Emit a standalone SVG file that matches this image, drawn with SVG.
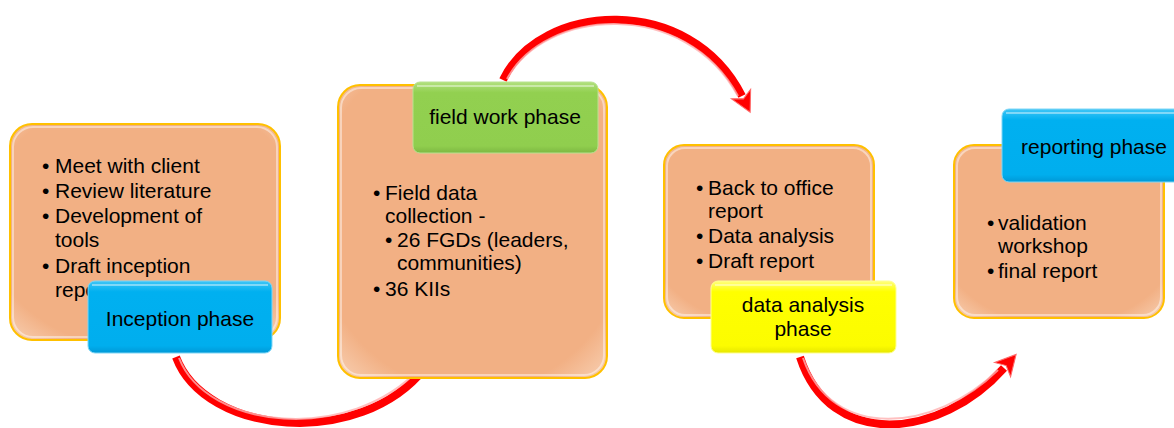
<svg xmlns="http://www.w3.org/2000/svg" width="1174" height="428" viewBox="0 0 1174 428">
  <style>
    .card { fill: url(#cardFill); stroke: #FFC000; stroke-width: 2; }
    .cardGlow { fill: none; stroke: #FFFFFF; stroke-opacity: 0.45; stroke-width: 2; }
    .txt { font-family: "Liberation Sans", Arial, sans-serif; font-size: 21px; fill: #000000; }
    .lbl { font-family: "Liberation Sans", Arial, sans-serif; font-size: 21px; fill: #000000; text-anchor: middle; }
    .tagEdge { fill: none; stroke: #FFFFFF; stroke-opacity: 0.55; stroke-width: 1.5; }
    .arc { fill: none; stroke: #FF0000; stroke-width: 8; stroke-linecap: butt; }
    .arcShine { fill: none; stroke: #FFB0B0; stroke-width: 2; stroke-opacity: 0.8; }
  </style>
  <defs>
    <radialGradient id="cardFill" cx="50%" cy="45%" r="70%">
      <stop offset="0" stop-color="#F2B084"/>
      <stop offset="0.85" stop-color="#F2B084"/>
      <stop offset="1" stop-color="#F6C7A6"/>
    </radialGradient>
    <linearGradient id="blueFill" x1="0" y1="0" x2="0" y2="1">
      <stop offset="0" stop-color="#3FC6F6"/>
      <stop offset="0.15" stop-color="#00B0F0"/>
      <stop offset="0.9" stop-color="#00AEEE"/>
      <stop offset="1" stop-color="#0098D6"/>
    </linearGradient>
    <linearGradient id="greenFill" x1="0" y1="0" x2="0" y2="1">
      <stop offset="0" stop-color="#B2E07E"/>
      <stop offset="0.15" stop-color="#92D050"/>
      <stop offset="0.9" stop-color="#90CE4E"/>
      <stop offset="1" stop-color="#7DB842"/>
    </linearGradient>
    <linearGradient id="yellowFill" x1="0" y1="0" x2="0" y2="1">
      <stop offset="0" stop-color="#FFFF80"/>
      <stop offset="0.15" stop-color="#FFFF00"/>
      <stop offset="0.9" stop-color="#FCFC00"/>
      <stop offset="1" stop-color="#E6E600"/>
    </linearGradient>
    <marker id="head" markerUnits="userSpaceOnUse" markerWidth="30" markerHeight="30" viewBox="-2 -14 22 28" refX="0" refY="0" orient="auto">
      <path d="M-2,-10 L17,0 L-2,10 L3,0 Z" fill="#FF0000" stroke="#FF6A6A" stroke-width="1"/>
    </marker>
  </defs>

  <!-- connectors: red curved arrows between phases -->
  <g id="connectors">
    <path class="arc" d="M176,357 C205,435 360,450 425,368"/>
    <path class="arcShine" d="M179,358 C207,430 350,444 420,368"/>
    <path class="arc" d="M503,80 C540,2 690,-8 742,96" marker-end="url(#head)"/>
    <path class="arcShine" d="M507,79 C545,8 685,-2 738,96"/>
    <path class="arc" d="M800,357 C830,450 940,440 1004,368" marker-end="url(#head)"/>
    <path class="arcShine" d="M803,358 C832,442 935,432 998,370"/>
  </g>

  <!-- inception -->
  <g id="inception">
    <rect class="card" x="10" y="124" width="270" height="216" rx="22"/>
    <rect class="cardGlow" x="13" y="127" width="264" height="210" rx="20"/>
    <text class="txt" x="42" y="173">•</text><text class="txt" x="55" y="173">Meet with client</text>
    <text class="txt" x="42" y="198">•</text><text class="txt" x="55" y="198">Review literature</text>
    <text class="txt" x="42" y="223">•</text><text class="txt" x="55" y="223">Development of</text>
    <text class="txt" x="55" y="247">tools</text>
    <text class="txt" x="42" y="273">•</text><text class="txt" x="55" y="273">Draft inception</text>
    <text class="txt" x="55" y="297">report</text>
  </g>
  <g id="inception-label">
    <rect x="88" y="281" width="184" height="72" rx="7" fill="url(#blueFill)" stroke="#7FD6F6" stroke-width="1"/>
    <path class="tagEdge" d="M92,285 L268,285"/>
    <text class="lbl" x="180" y="326">Inception phase</text>
  </g>

  <!-- field work -->
  <g id="fieldwork">
    <rect class="card" x="338" y="85" width="269" height="293" rx="22"/>
    <rect class="cardGlow" x="341" y="88" width="263" height="287" rx="20"/>
    <text class="txt" x="373" y="200">•</text><text class="txt" x="385" y="200">Field data</text>
    <text class="txt" x="385" y="223">collection -</text>
    <text class="txt" x="385" y="247">•</text><text class="txt" x="397" y="247">26 FGDs (leaders,</text>
    <text class="txt" x="397" y="270">communities)</text>
    <text class="txt" x="373" y="296">•</text><text class="txt" x="385" y="296">36 KIIs</text>
  </g>
  <g id="fieldwork-label">
    <rect x="413" y="82" width="185" height="71" rx="7" fill="url(#greenFill)" stroke="#B8E290" stroke-width="1"/>
    <path class="tagEdge" d="M417,86 L594,86"/>
    <text class="lbl" x="505" y="124">field work phase</text>
  </g>

  <!-- data analysis -->
  <g id="analysis">
    <rect class="card" x="664" y="145" width="210" height="173" rx="20"/>
    <rect class="cardGlow" x="667" y="148" width="204" height="167" rx="18"/>
    <text class="txt" x="696" y="195">•</text><text class="txt" x="708" y="195">Back to office</text>
    <text class="txt" x="708" y="218">report</text>
    <text class="txt" x="696" y="243">•</text><text class="txt" x="708" y="243">Data analysis</text>
    <text class="txt" x="696" y="268">•</text><text class="txt" x="708" y="268">Draft report</text>
  </g>
  <g id="analysis-label">
    <rect x="711" y="281" width="185" height="72" rx="7" fill="url(#yellowFill)" stroke="#FFFF90" stroke-width="1"/>
    <path class="tagEdge" d="M715,285 L892,285"/>
    <text class="lbl" x="803" y="312">data analysis</text>
    <text class="lbl" x="803" y="336">phase</text>
  </g>

  <!-- reporting -->
  <g id="reporting">
    <rect class="card" x="954" y="145" width="210" height="173" rx="20"/>
    <rect class="cardGlow" x="957" y="148" width="204" height="167" rx="18"/>
    <text class="txt" x="987" y="230">•</text><text class="txt" x="998" y="230">validation</text>
    <text class="txt" x="998" y="253">workshop</text>
    <text class="txt" x="987" y="278">•</text><text class="txt" x="998" y="278">final report</text>
  </g>
  <g id="reporting-label">
    <rect x="1002" y="109" width="190" height="73" rx="7" fill="url(#blueFill)" stroke="#7FD6F6" stroke-width="1"/>
    <path class="tagEdge" d="M1006,113 L1174,113"/>
    <text class="lbl" x="1094" y="154">reporting phase</text>
  </g>
</svg>
